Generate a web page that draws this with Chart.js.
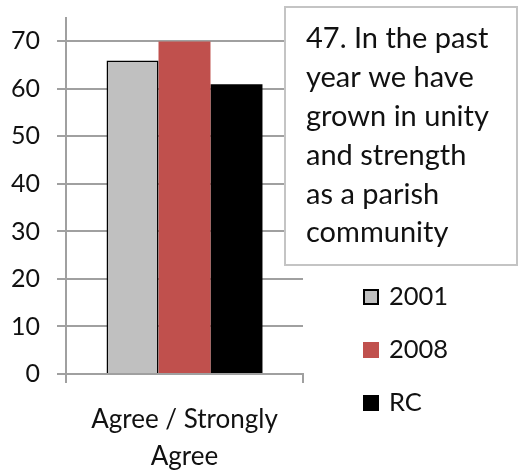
<!DOCTYPE html>
<html>
<head>
<meta charset="utf-8">
<script src="https://cdn.jsdelivr.net/npm/chart.js@4/dist/chart.umd.min.js"></script>
<style>
html,body{margin:0;padding:0;background:#fff;}
#wrap{position:relative;width:521px;height:471px;}
</style>
</head>
<body>
<div id="wrap"><canvas id="c" width="521" height="471"></canvas></div>
<script>
const categories = [['Agree / Strongly', 'Agree']];
const seriesNames = ['2001', '2008', 'RC'];
const values2001 = [66];
const values2008 = [70];
const valuesRC = [61];
const yTicks = [0, 10, 20, 30, 40, 50, 60, 70];
const titleLines = ['47. In the past', 'year we have', 'grown in unity', 'and strength', 'as a parish', 'community'];

const FONT = 'Lato, "Noto Sans", sans-serif';
const TEXT = '#111111';
const GRID = '#a0a0a0';

const overlay = {
  id: 'overlay',
  afterDraw(chart) {
    const ctx = chart.ctx;
    ctx.save();
    // title box
    ctx.fillStyle = '#ffffff';
    ctx.fillRect(285, 7, 232, 258);
    ctx.strokeStyle = '#c4c4c4';
    ctx.lineWidth = 2;
    ctx.strokeRect(285, 7, 232, 258);
    ctx.fillStyle = TEXT;
    ctx.font = '29px ' + FONT;
    ctx.textBaseline = 'middle';
    ctx.textAlign = 'left';
    titleLines.forEach((t, i) => ctx.fillText(t, 306, 39 + i * 38.8));
    // legend
    chart.data.datasets.forEach((ds, i) => {
      const cy = 297 + i * 53;
      ctx.fillStyle = ds.backgroundColor;
      ctx.fillRect(363, cy - 8, 16, 16);
      if (ds.borderWidth) {
        ctx.strokeStyle = ds.borderColor;
        ctx.lineWidth = 2;
        ctx.strokeRect(364, cy - 7, 14, 14);
      }
      ctx.fillStyle = TEXT;
      ctx.font = '25.5px ' + FONT;
      ctx.fillText(ds.label, 389, cy);
    });
    ctx.restore();
  }
};

new Chart(document.getElementById('c'), {
  type: 'bar',
  data: {
    labels: categories,
    datasets: [
      { label: seriesNames[0], data: values2001, backgroundColor: '#c0c0c0', borderColor: '#000000', borderWidth: 1.5 },
      { label: seriesNames[1], data: values2008, backgroundColor: '#c0504d', borderWidth: 0 },
      { label: seriesNames[2], data: valuesRC, backgroundColor: '#000000', borderWidth: 0 }
    ]
  },
  options: {
    responsive: false,
    animation: false,
    events: [],
    layout: { padding: { top: 15, right: 218, left: 0, bottom: 0 } },
    datasets: { bar: { categoryPercentage: 0.658, barPercentage: 1.0 } },
    plugins: { legend: { display: false }, title: { display: false }, tooltip: { enabled: false } },
    scales: {
      x: {
        grid: { display: true, drawOnChartArea: false, drawTicks: true, tickLength: 9, color: GRID, lineWidth: 2, offset: true },
        border: { display: true, color: GRID, width: 2 },
        ticks: { color: TEXT, padding: 18.5, font: { family: FONT, size: 26, lineHeight: 37 / 26 }, maxRotation: 0 },
        afterFit(s) { s.height = 97; }
      },
      y: {
        min: 0, max: 75,
        grid: { color: GRID, lineWidth: 2, tickLength: 9, drawTicks: true },
        border: { display: true, color: GRID, width: 2 },
        ticks: {
          stepSize: 10, includeBounds: false, padding: 17, color: TEXT,
          font: { family: FONT, size: 25, lineHeight: 0.05 },
          callback: (v) => yTicks.includes(v) ? String(v) : null
        },
        afterFit(s) { s.width = 66; }
      }
    }
  },
  plugins: [overlay]
});
</script>
</body>
</html>
